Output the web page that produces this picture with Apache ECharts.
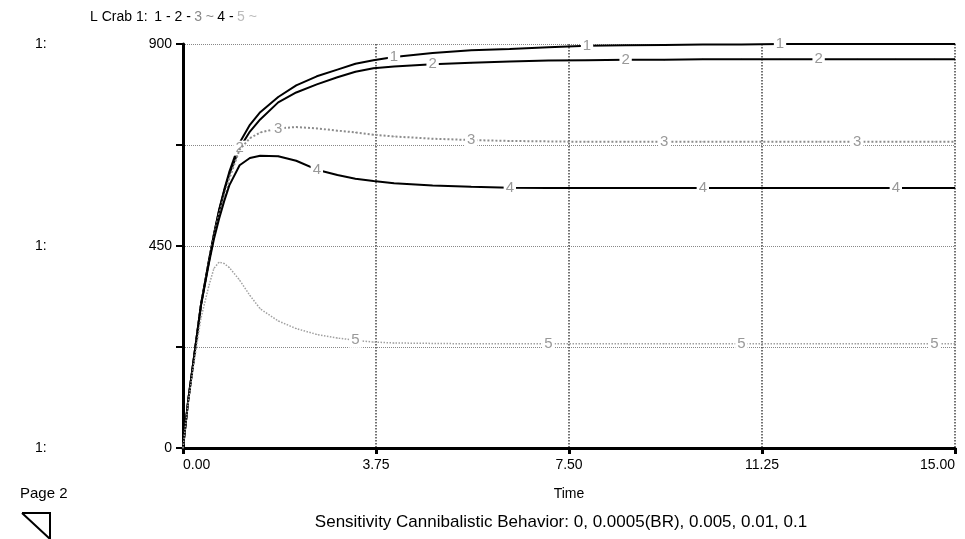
<!DOCTYPE html>
<html><head><meta charset="utf-8">
<script src="https://cdn.jsdelivr.net/npm/echarts@6/dist/echarts.min.js"></script>
<style>html,body{margin:0;padding:0;background:#fff}#c{width:965px;height:539px}</style>
</head><body><div id="c"></div>
<script>
// ---- data ----
const time = [0,0.1,0.2,0.35,0.5,0.6,0.7,0.8,0.9,1.1,1.3,1.5,1.85,2.2,2.6,3.0,3.35,3.7,4.1,4.85,5.6,6.35,7.1,7.85,8.6,9.35,10.1,10.85,11.6,12.35,13.1,13.85,14.6,15];
const s1 = [0,105,190,320,415,475,530,575,615,680,720,748,782,808,828,843,856,864,871,880,886,889,893,896,897,898,899,899,900,900,900,900,900,900];
const s2 = [0,105,190,320,415,475,528,572,610,668,705,732,770,792,810,826,838,846,850,855,858,861,863,864,865,865,866,866,866,866,866,866,866,866];
const s3 = [0,105,190,320,412,470,520,560,600,665,690,703,712,715,712,707,703,698,694,689,686,684,683,682,682,682,682,682,682,682,682,682,682,682];
const s4 = [0,105,190,318,410,465,510,550,585,630,646,651,650,640,620,608,600,595,590,585,582,580,579,579,579,579,579,579,579,579,579,579,579,579];
const s5 = [0,100,180,290,360,400,414,411,402,374,340,310,283,266,253,245,240,236,234,233,232,232,232,232,232,232,232,232,232,232,232,232,232,232];
const seriesNames = ['1','2','3','4','5'];
const labelTimes = [[4.1,7.85,11.6],[1.1,4.85,8.6,12.35],[1.85,5.6,9.35,13.1],[2.6,6.35,10.1,13.85],[3.35,7.1,10.85,14.6]];
const yLabelled = [0,450,900];
const headerText = 'L Crab 1:';
const xTitle = 'Time';
const subtitle = 'Sensitivity Cannibalistic Behavior: 0, 0.0005(BR), 0.005, 0.01, 0.1';
const pageText = 'Page 2';

// ---- chart ----
const allSeries = [s1,s2,s3,s4,s5];
const lineColors = ['#000','#000','#8c8c8c','#000','#a0a0a0'];
const lineWidths = [2,2,2,2,1.5];
const lineTypes = ['solid','solid','dotted','solid','dotted'];
const FONT = 'Liberation Sans, Arial, sans-serif';

function build(vals,k){
  return time.map((t,i)=>{
    const item = {value:[t,vals[i]]};
    if (labelTimes[k].some(lt=>Math.abs(lt-t)<1e-6)) item.label = {show:true};
    return item;
  });
}

const chart = echarts.init(document.getElementById('c'), null, {renderer:'canvas'});
chart.setOption({
  animation:false,
  backgroundColor:'#fff',
  textStyle:{fontFamily:FONT},
  grid:{left:183, right:10, top:44, bottom:91, containLabel:false},
  xAxis:{type:'value', min:0, max:15, interval:3.75,
    name:xTitle, nameLocation:'middle', nameGap:39,
    nameTextStyle:{color:'#000', fontSize:14, fontFamily:FONT},
    axisLine:{show:true, onZero:false, lineStyle:{color:'#000', width:3}},
    axisTick:{show:true, length:6, lineStyle:{color:'#000', width:3}},
    axisLabel:{color:'#000', fontSize:14, fontFamily:FONT, margin:10, alignMinLabel:'left', alignMaxLabel:'right', formatter:v=>v.toFixed(2)},
    splitLine:{show:true, lineStyle:{type:'dotted', color:'#444', width:1.5}}
  },
  yAxis:{type:'value', min:0, max:900, interval:225,
    axisLine:{show:true, lineStyle:{color:'#000', width:3}},
    axisTick:{show:true, length:7, lineStyle:{color:'#000', width:2}},
    axisLabel:{color:'#000', fontSize:14, fontFamily:FONT, margin:11,
      formatter:v=> yLabelled.includes(v) ? '{a|1:}{b|'+v+'}' : '',
      rich:{a:{width:107, align:'left', fontSize:14, fontFamily:FONT, color:'#000'}, b:{width:30, align:'right', fontSize:14, fontFamily:FONT, color:'#000'}}},
    splitLine:{show:true, lineStyle:{type:'dotted', color:'#888', width:1}}
  },
  series: allSeries.map((vals,k)=>({
    type:'line', name:seriesNames[k], data:build(vals,k),
    symbol:'circle', symbolSize:1, showSymbol:true, showAllSymbol:true,
    itemStyle:{color:lineColors[k]},
    lineStyle:{color:lineColors[k], width:lineWidths[k], type:lineTypes[k]},
    label:{show:false, position:'inside', formatter:seriesNames[k], color:'#999', fontSize:15, fontFamily:FONT, backgroundColor:'#fff', padding:[0,2]},
    labelLayout:{hideOverlap:false},
    z:2+k
  })),
  graphic:[
    {type:'text', left:90, top:10, style:{text:'{t|'+headerText+'}  {k|1 - 2 -} {g|3 ~} {k|4 -} {l|5 ~}',
      rich:{t:{fontSize:14, fontFamily:FONT, fill:'#000'}, k:{fontSize:14, fontFamily:FONT, fill:'#000'}, g:{fontSize:14, fontFamily:FONT, fill:'#888'}, l:{fontSize:14, fontFamily:FONT, fill:'#bbb'}}}},
    {type:'text', left:20, top:486, style:{text:pageText, fontSize:15, fontFamily:FONT, fill:'#000'}},
    {type:'polyline', shape:{points:[[22,513],[50,513],[50,539],[22,513]]}, style:{stroke:'#000', lineWidth:2, fill:null}},
    {type:'text', x:561, y:522, style:{text:subtitle, fontSize:17, fontFamily:FONT, fill:'#000', align:'center', verticalAlign:'middle'}}
  ]
});
</script></body></html>
